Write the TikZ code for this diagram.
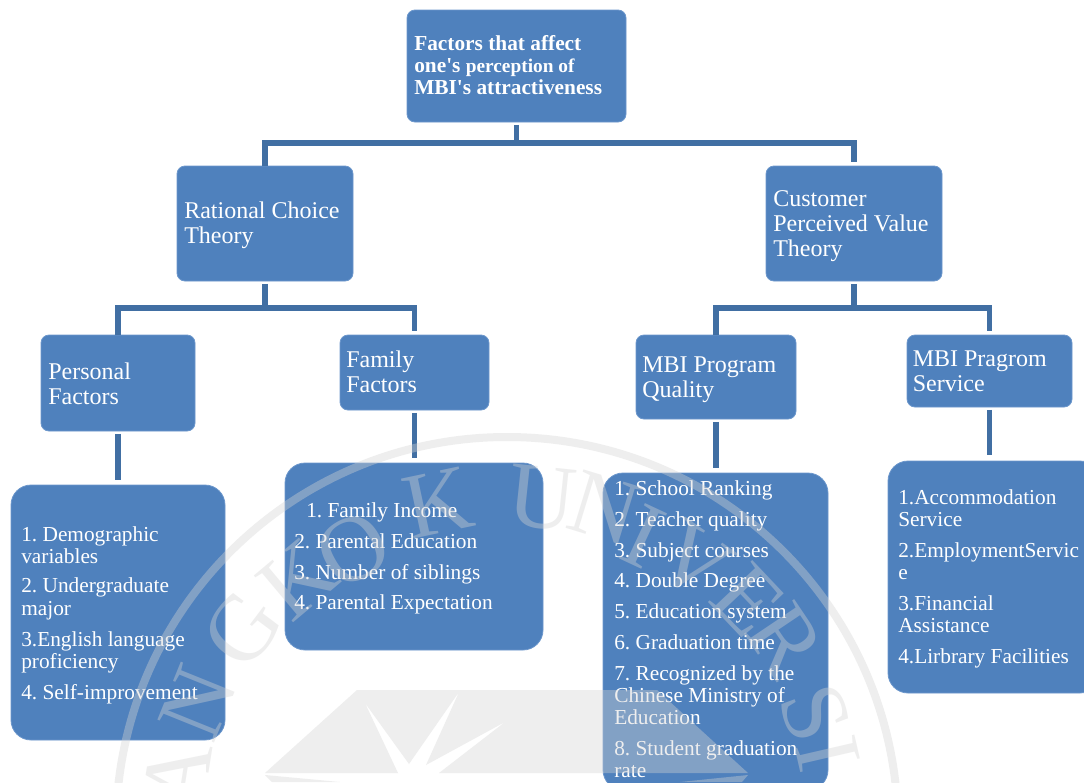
\documentclass[tikz,border=0pt]{standalone}
\usepackage{fontspec}
\setmainfont{Liberation Serif}
\newfontfamily\rootfont{Liberation Serif}
\definecolor{boxblue}{HTML}{4F81BD}
\definecolor{boxedge}{HTML}{6C97CC}
\definecolor{linkblue}{HTML}{416FA3}
\newlength{\stackskip}
\newcommand{\tstack}[1]{\vtop{\baselineskip=\stackskip\lineskiplimit=-100pt\lineskip=0pt #1}}
\newcommand{\tl}[1]{\hbox{\frenchspacing #1}}
\newcommand{\igap}{\vskip 6.75pt}
\newcommand{\pxbox}[6]{\node[#1,minimum width={(#5-#3)*0.75pt},minimum height={(#6-#4)*0.75pt}] (#2) at ({(#3+#5)/2},{(#4+#6)/2}) {};}
\tikzset{
  basebox/.style={draw=boxedge,line width=0.6pt,fill=boxblue,inner sep=0pt,outer sep=0pt},
  smallbox/.style={basebox,rounded corners=6pt},
  bigbox/.style={basebox,rounded corners=15pt},
  titletext/.style={anchor=base west,inner sep=0pt,text=white,font=\fontsize{18}{25}\selectfont,execute at begin node={\setlength{\stackskip}{18.9pt}}},
  listtext/.style={anchor=base west,inner sep=0pt,text=white,font=\fontsize{16}{22}\selectfont,execute at begin node={\setlength{\stackskip}{16.5pt}}},
  roottext/.style={anchor=base west,inner sep=0pt,text=white,font=\rootfont\fontsize{16}{22}\selectfont\bfseries,execute at begin node={\setlength{\stackskip}{16.6pt}}},
  conn/.style={draw=linkblue,line width=3.9pt},
  wmfill/.style={fill=black!17,fill opacity=0.39,draw=none},
  wmring/.style={draw=black!17,draw opacity=0.39,line width=6pt},
  wmletter/.style={text=black!17,text opacity=0.39,inner sep=0pt,font=\fontsize{70}{70}\selectfont}
}
\begin{document}
\begin{tikzpicture}[x=0.75pt,y=-0.75pt]
\useasboundingbox (0,0) rectangle (1084,782);
\clip (0,0) rectangle (1084,782);
\fill[white] (0,0) rectangle (1084,782);
% boxes
\pxbox{smallbox}{root}{407}{10}{626}{122}
\pxbox{smallbox}{rct}{177}{166}{353}{281}
\pxbox{smallbox}{cpv}{766}{166}{942}{281}
\pxbox{smallbox}{pf}{41}{335}{195}{431}
\pxbox{smallbox}{ff}{340}{335}{489}{410}
\pxbox{smallbox}{qual}{636}{335}{796}{419}
\pxbox{smallbox}{serv}{907}{335}{1072}{407}
\pxbox{bigbox}{lista}{11}{485}{225}{740}
\pxbox{bigbox}{listb}{285}{463}{543}{650}
\pxbox{bigbox}{listc}{603}{473}{828}{790}
\pxbox{bigbox}{listd}{888}{461}{1100}{693}
% connector junctions
\coordinate (busroot) at (516.5,143);
\coordinate (busrct) at (265,308);
\coordinate (buscpv) at (854,308);
\coordinate (enda) at (118,480);
\coordinate (endb) at (414.5,458);
\coordinate (endc) at (716,468);
\coordinate (endd) at (989.5,455);
% connectors
\draw[conn,shorten <=2.2pt] (root.south) -- (busroot);
\draw[conn,shorten >=3pt] (rct.north) -- (rct.north |- busroot) -- (cpv.north |- busroot) -- (cpv.north);
\draw[conn,shorten <=2.2pt] (rct.south) -- (busrct);
\draw[conn,shorten >=3pt] (pf.north) -- (pf.north |- busrct) -- (ff.north |- busrct) -- (ff.north);
\draw[conn,shorten <=2.2pt] (cpv.south) -- (buscpv);
\draw[conn,shorten >=3pt] (qual.north) -- (qual.north |- buscpv) -- (serv.north |- buscpv) -- (serv.north);
\draw[conn,shorten <=2.2pt] (pf.south) -- (enda);
\draw[conn,shorten <=2.2pt] (ff.south) -- (endb);
\draw[conn,shorten <=2.2pt] (qual.south) -- (endc);
\draw[conn,shorten <=2.2pt] (serv.south) -- (endd);
% texts
\node[roottext] (roott) at (414,50) {\tstack{\tl{Factors that affect}\tl{one's {\fontsize{14.5}{20}\selectfont perception of}}\tl{MBI's attractiveness}}};
\node[titletext] (rctt) at (184,218) {\tstack{\tl{Rational Choice}\tl{Theory}}};
\node[titletext] (cpvt) at (773,206) {\tstack{\tl{Customer}\tl{Perceived Value}\tl{Theory}}};
\node[titletext] (pft) at (48,379) {\tstack{\tl{Personal}\tl{Factors}}};
\node[titletext] (fft) at (346,367.5) {\tstack{\tl{Family}\tl{Factors}}};
\node[titletext] (qualt) at (642,372.5) {\tstack{\tl{MBI Program}\tl{Quality}}};
\node[titletext] (servt) at (912.5,366) {\tstack{\tl{MBI Pragrom}\tl{Service}}};
\node[listtext] (listat) at (21,541) {\tstack{\tl{1. Demographic}\tl{variables}\vskip 5.25pt\tl{2. Undergraduate}\vskip .75pt\tl{major}\igap\tl{3.English language}\tl{proficiency}\igap\tl{4. Self-improvement}}};
\node[listtext] (listbt) at (294,517) {\tstack{\tl{\hspace{9pt}1. Family Income}\igap\tl{2. Parental Education}\igap\tl{3. Number of siblings}\vskip 6pt\tl{4. Parental Expectation}}};
\node[listtext] (listct) at (614,495) {\tstack{\tl{1. School Ranking}\igap\tl{2. Teacher quality}\igap\tl{3. Subject courses}\vskip 6pt\tl{4. Double Degree}\igap\tl{5. Education system}\igap\tl{6. Graduation time}\igap\tl{7. Recognized by the}\tl{Chinese Ministry of}\tl{Education}\igap\tl{8. Student graduation}\tl{rate}}};
\node[listtext] (listdt) at (898,504) {\tstack{\tl{1.Accommodation}\tl{Service}\igap\tl{2.EmploymentServic}\tl{e}\igap\tl{3.Financial}\tl{Assistance}\igap\tl{4.Lirbrary Facilities}}};
% watermark
\draw[wmring] (507,828) circle[radius=391];
\fill[wmfill] (357,690) -- (657,690) -- (748,773) -- (439,773) -- (505,722) -- (426,765) -- (459,692) -- (409,764) -- (365,703) -- (398,773) -- (265,773) -- cycle;
\fill[wmfill] (265,775) -- (340,782) -- (272,782) -- cycle;
\fill[wmfill] (748,775) -- (680,782) -- (742,782) -- cycle;
\foreach \ltr/\ang/\rad [count=\i] in {A/-81/334,N/-68/334,G/-53/331,K/-40/325,O/-29/318,K/-12/333,U/6/332,N/17/335,I/25/322,V/35/326,E/46.6/332,R/56/335,S/69.5/329,I/77/329}{
  \node[wmletter,rotate={-\ang}] (wm\i) at ({507+\rad*sin(\ang)},{828-\rad*cos(\ang)}) {\ltr};
}
\end{tikzpicture}
\end{document}
